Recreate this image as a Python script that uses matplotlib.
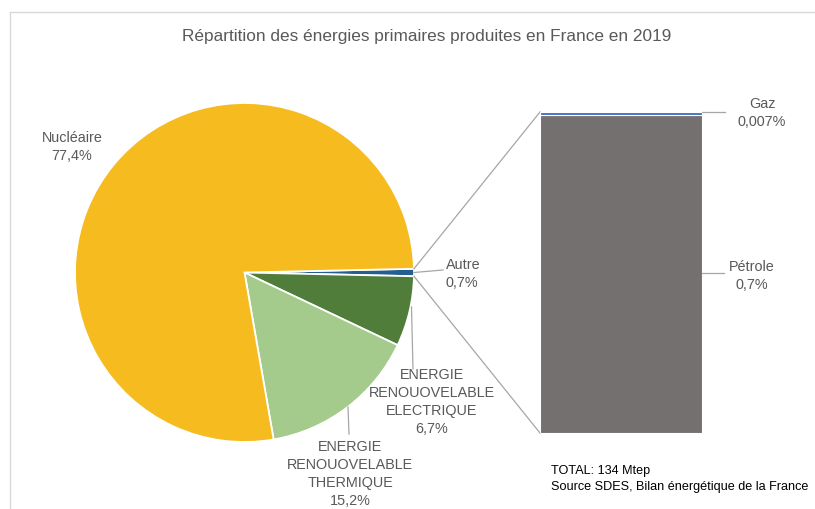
import numpy as np
import matplotlib
import matplotlib.pyplot as plt

matplotlib.use("Agg")

W, H = 815, 509

# main pie: primary energy shares (%)
pie_labels = ["Autre", "ENERGIE\nRENOUOVELABLE\nELECTRIQUE", "ENERGIE\nRENOUOVELABLE\nTHERMIQUE", "Nucléaire"]
pie_values = [0.7, 6.7, 15.2, 77.4]
pie_colors = ["#255E91", "#507E3A", "#A5CB8C", "#F5BB1F"]

# secondary bar: split of "Autre"
bar_labels = ["Pétrole", "Gaz"]
bar_values = [0.7, 0.007]
bar_text = ["0,7%", "0,007%"]
bar_colors = ["#747070", "#4472C4"]

INK = "#595959"
LINE = "#A6A6A6"
FONT = "Liberation Sans"


def fy(y):
    # image-style y (top down) -> axes y (bottom up)
    return H - y


fig = plt.figure(figsize=(W / 100, H / 100), dpi=100)
ax = fig.add_axes([0, 0, 1, 1])

cx, cy, r = 244.5, fy(272.5), 169.5
total = sum(pie_values)
start = 360 * pie_values[0] / total / 2
ax.pie(pie_values, colors=pie_colors, startangle=start, counterclock=False,
       center=(cx, cy), radius=r, frame=True,
       wedgeprops=dict(edgecolor="white", linewidth=1.3))
ax.set_xlim(0, W)
ax.set_ylim(0, H)
ax.set_aspect("equal")
ax.axis("off")

# chart frame (cropped on right/bottom)
ax.plot([10, W], [fy(12), fy(12)], color="#D9D9D9", lw=1)
ax.plot([10, 10], [fy(12), 0], color="#D9D9D9", lw=1)

ax.text(427, fy(36), "Répartition des énergies primaires produites en France en 2019",
        ha="center", va="center", fontsize=12.4, color=INK, family=FONT)

# bar of pie
bx0, bx1, by0, by1 = 540, 702, fy(433), fy(112)
bax = fig.add_axes([bx0 / W, by0 / H, (bx1 - bx0) / W, (by1 - by0) / H])
bottom = 0
for v, c in zip(bar_values, bar_colors):
    bax.bar([0], [v], bottom=bottom, width=1, color=c, edgecolor="white", linewidth=0.8)
    bottom += v
bax.set_xlim(-0.5, 0.5)
bax.set_ylim(0, sum(bar_values))
bax.axis("off")

# connector lines from the "Autre" wedge to the bar
a_top = np.deg2rad(start)
a_bot = np.deg2rad(start - 360 * pie_values[0] / total)
ax.plot([cx + r * np.cos(a_top), bx0], [cy + r * np.sin(a_top), by1], color=LINE, lw=0.9)
ax.plot([cx + r * np.cos(a_bot), bx0], [cy + r * np.sin(a_bot), by0], color=LINE, lw=0.9)


def pct(v):
    return f"{v:.1f}%".replace(".", ",")


lab = dict(fontsize=10.4, color=INK, family=FONT, linespacing=1.38)

# pie labels
ax.text(72, fy(147), f"{pie_labels[3]}\n{pct(pie_values[3])}", ha="center", va="center", **lab)

ax.plot([414, 443], [cy, fy(270)], color=LINE, lw=0.9)
ax.text(446, fy(274), f"{pie_labels[0]}\n{pct(pie_values[0])}", ha="left", va="center", **lab)

ax.plot([411.5, 413], [fy(307), fy(369)], color=LINE, lw=0.9)
ax.text(432, fy(402), f"{pie_labels[1]}\n{pct(pie_values[1])}", ha="center", va="center", **lab)

ax.plot([348, 349], [fy(407), fy(434)], color=LINE, lw=0.9)
ax.text(350, fy(474), f"{pie_labels[2]}\n{pct(pie_values[2])}", ha="center", va="center", **lab)

# bar labels
ax.plot([bx1, 725], [fy(112), fy(112)], color=LINE, lw=0.9)
ax.text(762, fy(113), f"{bar_labels[1]}\n{bar_text[1]}", ha="center", va="center", **lab)
ax.plot([bx1, 724], [fy(273), fy(273)], color=LINE, lw=0.9)
ax.text(752, fy(276), f"{bar_labels[0]}\n{bar_text[0]}", ha="center", va="center", **lab)

ax.text(551, fy(479), "TOTAL: 134 Mtep\nSource SDES, Bilan énergétique de la France",
        ha="left", va="center", fontsize=9.1, color="black", family=FONT, linespacing=1.35)

fig.savefig("out.png", dpi=100)
